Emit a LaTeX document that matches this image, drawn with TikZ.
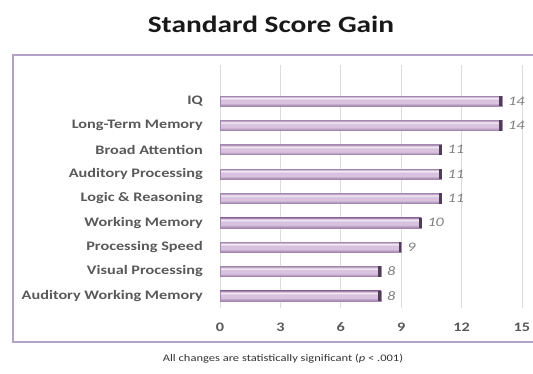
\documentclass[tikz,border=0pt]{standalone}
\usepackage{fontspec}
\setmainfont{Carlito}[FakeStretch=1.25]
\definecolor{frame}{HTML}{B4A2C6}
\definecolor{grid}{HTML}{DCDCDC}
\definecolor{labgray}{HTML}{595959}
\definecolor{valgray}{HTML}{7F7F7F}
\definecolor{btop}{HTML}{A387AE}
\definecolor{bhi}{HTML}{F6ECF7}
\definecolor{bmid}{HTML}{D9C2DF}
\definecolor{bbot}{HTML}{9E80A8}
\definecolor{bcap}{HTML}{4E3E55}
\pgfdeclareverticalshading{barshade}{100bp}{color(0bp)=(bbot); color(25bp)=(bbot); color(40bp)=(bmid); color(56bp)=(bmid); color(65bp)=(bhi); color(75bp)=(btop); color(100bp)=(btop)}
\tikzset{
  catlabel/.style={anchor=east, text=labgray, font=\fontsize{13}{13}\selectfont\bfseries, inner sep=0pt},
  vallabel/.style={anchor=west, text=valgray, font=\fontsize{13}{13}\selectfont\itshape, inner sep=0pt},
  ticklabel/.style={anchor=center, text=labgray, font=\fontsize{13}{13}\selectfont\bfseries, inner sep=0pt},
  gridline/.style={draw=grid, line width=0.8pt},
  barbody/.style={shading=barshade, draw=btop, line width=0.5pt},
}
\begin{document}
\begin{tikzpicture}[x=1pt,y=-1pt]
\useasboundingbox (0,0) rectangle (533,373);
\node[font=\fontsize{23.5}{23.5}\selectfont\bfseries, text=black!90] (title) at (271,24) {Standard Score Gain};
\draw[frame, line width=2pt] (533,54.5) -- (13,54.5) -- (13,342) -- (533,342);
\def\ux{20.13}
\foreach \t [count=\k from 0] in {0,3,6,9,12,15} {
  \draw[gridline] (220+\t*\ux,65) -- (220+\t*\ux,308);
  \node[ticklabel] (tick\k) at (220+\t*\ux,327) {\t};
}
\foreach \lab/\v [count=\i from 0] in {IQ/14,Long-Term Memory/14,Broad Attention/11,Auditory Processing/11,Logic \& Reasoning/11,Working Memory/10,Processing Speed/9,Visual Processing/8,Auditory Working Memory/8} {
  \pgfmathsetmacro{\yy}{101+24.35*\i}
  \pgfmathsetmacro{\xe}{220+\v*\ux}
  \node[catlabel] (cat\i) at (203,\yy) {\lab};
  \shade[barbody] (220,\yy-5) rectangle (\xe,\yy+5);
  \fill[bcap] (\xe-2.6,\yy-5.2) rectangle (\xe+0.3,\yy+5.2);
  \node[vallabel] (val\i) at (\xe+6,\yy) {\v};
}
\node[font=\fontsize{10}{10}\selectfont, text=black!80] (note) at (283,359) {All changes are statistically significant (\textit{p} < .001)};
\end{tikzpicture}
\end{document}
